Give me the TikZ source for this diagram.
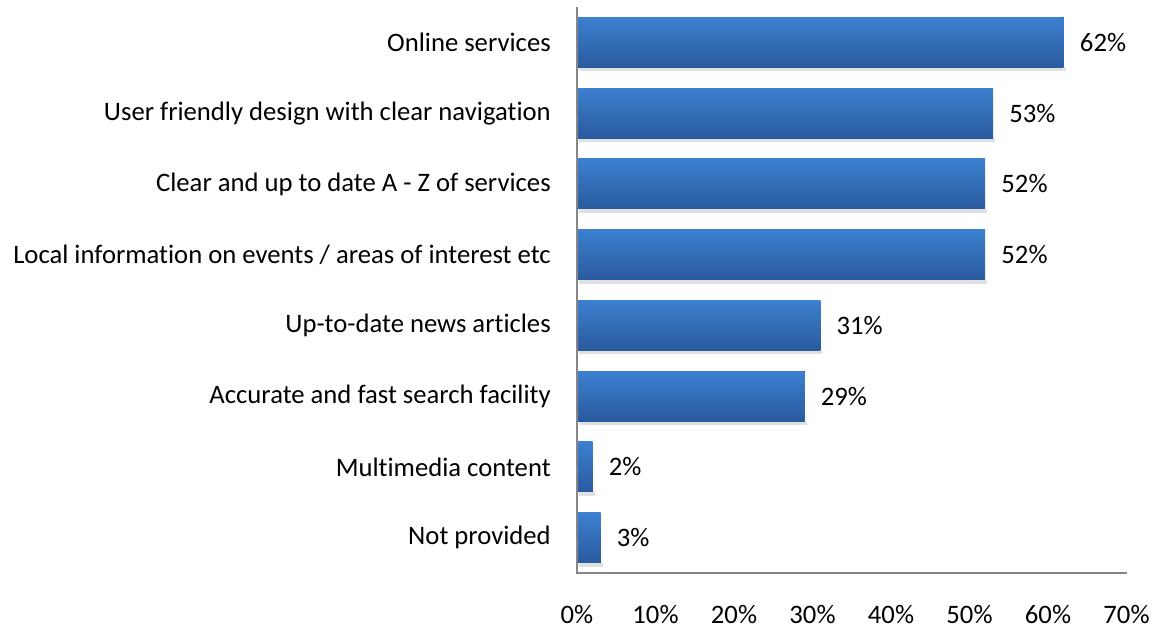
\documentclass[tikz,border=0pt]{standalone}
\usepackage{fontspec}
\setmainfont{Carlito}[Ligatures=NoCommon]
\definecolor{bartop}{RGB}{60, 128, 208}
\definecolor{barbot}{RGB}{42, 90, 158}
\definecolor{axisgray}{RGB}{134, 134, 134}
\usetikzlibrary{positioning, calc}

\begin{document}
\begin{tikzpicture}[x=0.75pt, y=-0.75pt,
    bar/.style={top color=bartop, bottom color=barbot, draw=none},
    barshadow/.style={fill=black, opacity=0.12, draw=none},
    catlabel/.style={anchor=east, inner sep=0pt, font=\fontsize{20}{24}\selectfont},
    vallabel/.style={anchor=west, inner sep=0pt, font=\fontsize{20}{24}\selectfont},
    ticklabel/.style={anchor=center, inner sep=0pt, font=\fontsize{20}{24}\selectfont},
    axisline/.style={draw=axisgray, line width=1.5pt}]
  \useasboundingbox (0,0) rectangle (1160,630);
  \coordinate (origin) at (577,573);
  \coordinate (top) at (577,7);
  \coordinate (xend) at (1127,573);

  % bars
  \foreach \v/\lab [count=\i] in {62/Online services,
      53/User friendly design with clear navigation,
      52/Clear and up to date A - Z of services,
      52/{Local information on events / areas of interest etc},
      31/Up-to-date news articles,
      29/Accurate and fast search facility,
      2/Multimedia content,
      3/Not provided} {
    \pgfmathsetmacro{\c}{42.4+(\i-1)*70.75}
    \pgfmathsetmacro{\w}{577+7.85*\v}
    \fill[barshadow] (579,\c+25) rectangle (\w+2,\c+29);
    \fill[bar] (577,\c-25) rectangle (\w,\c+25);
    \node[catlabel] (cat\i) at (551,\c) {\lab};
    \node[vallabel] (val\i) at (\w+16,\c) {\v\%};
  }

  % axes
  \draw[axisline] (top) -- (origin) -- (xend);
  \foreach \t in {0,10,...,70}
    \node[ticklabel] (tick\t) at (577+7.85*\t,615) {\t\%};
\end{tikzpicture}
\end{document}
